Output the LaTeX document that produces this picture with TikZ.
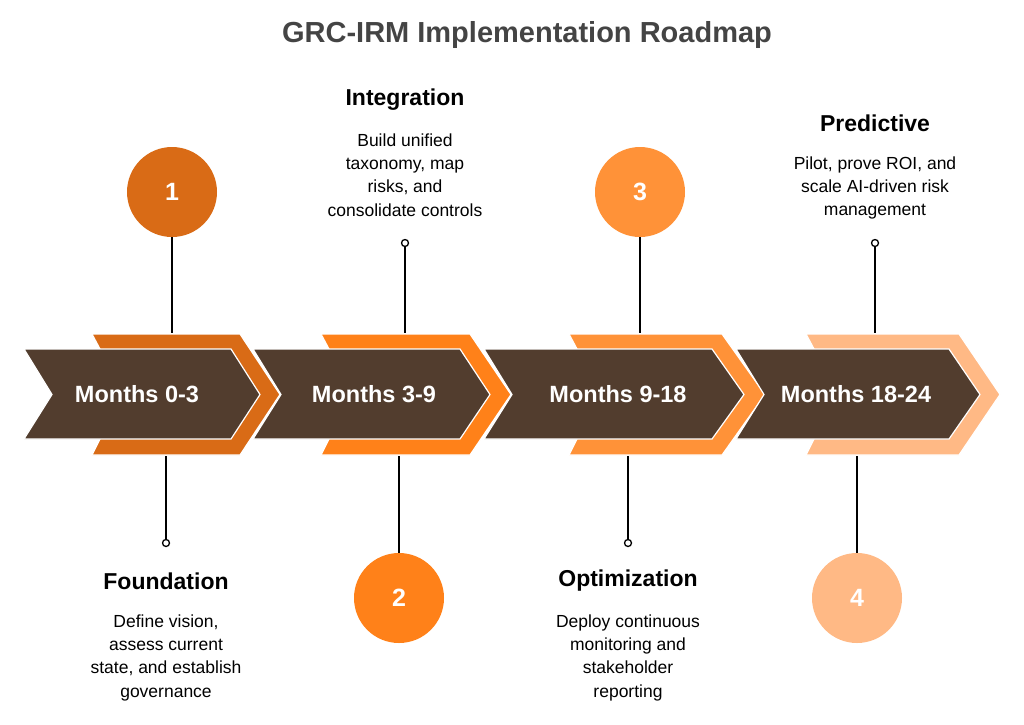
\documentclass[tikz,border=0pt]{standalone}
\usepackage{fontspec}
\setmainfont{Liberation Sans}
\definecolor{brn}{HTML}{523D2E}
\definecolor{oA}{HTML}{D96B16}
\definecolor{oB}{HTML}{FF8119}
\definecolor{oC}{HTML}{FF9238}
\definecolor{oD}{HTML}{FFB985}
\definecolor{tt}{HTML}{444444}
\begin{document}
\begin{tikzpicture}[x=1pt,y=-1pt,
  chev/.style={draw=white,line width=1.2pt},
  big/.style={circle,minimum size=90pt,inner sep=0pt,text=white,font=\bfseries\fontsize{25}{28}\selectfont},
  dot/.style={circle,draw=black,fill=white,line width=1.3pt,minimum size=7pt,inner sep=0pt},
  stem/.style={line width=2pt,black},
  head/.style={font=\bfseries\fontsize{23}{26}\selectfont,text=black},
  desc/.style={align=center,font=\fontsize{17.5}{23.3}\selectfont,text=black},
  mon/.style={text=white,font=\bfseries\fontsize{23.5}{26}\selectfont}]
\useasboundingbox (0,0) rectangle (1024,724);
\node[font=\bfseries\fontsize{29}{32}\selectfont,text=tt] (title) at (527,35) {GRC-IRM Implementation Roadmap};
\foreach \L/\TR/\T/\BL/\BE/\IT/\c in {92/240/280/24/231/260/oA, 321/470/511/253/460/490/oB, 569/722/765/484/712/744/oC, 806/959/1000/736/949/980/oD}{
  \fill[\c,chev] (\L,334) -- (\TR,334) -- (\T,394.5) -- (\TR,455) -- (\L,455) -- (\L+8,439) -- (\L+8,349) -- cycle;
  \fill[brn,chev] (\BL,349) -- (\BE,349) -- (\IT,394.5) -- (\BE,439) -- (\BL,439) -- (\BL+28,394.5) -- cycle;
}
\node[mon] (m1) at (137,394) {Months 0-3};
\node[mon] (m2) at (374,394) {Months 3-9};
\node[mon] (m3) at (618,394) {Months 9-18};
\node[mon] (m4) at (856,394) {Months 18-24};
\node[big,fill=oA] (c1) at (172,192) {1};
\node[big,fill=oB] (c2) at (399,598) {2};
\node[big,fill=oC] (c3) at (640,192) {3};
\node[big,fill=oD] (c4) at (857,598) {4};
\coordinate (s1) at (172,333);
\coordinate (s3) at (640,333);
\coordinate (s2) at (399,456);
\coordinate (s4) at (857,456);
\draw[stem] (c1) -- (s1);
\draw[stem] (c3) -- (s3);
\draw[stem] (c2) -- (s2);
\draw[stem] (c4) -- (s4);
\coordinate (t2) at (405,333);
\coordinate (t4) at (875,333);
\coordinate (b1) at (166,456);
\coordinate (b3) at (628,456);
\node[dot] (d2) at (405,243) {};
\node[dot] (d4) at (875,243) {};
\node[dot] (d1) at (166,543) {};
\node[dot] (d3) at (628,543) {};
\draw[stem] (d2) -- (t2);
\draw[stem] (d4) -- (t4);
\draw[stem] (d1) -- (b1);
\draw[stem] (d3) -- (b3);
\node[head] (h2) at (405,100) {Integration};
\node[desc,anchor=north] (x2) at (405,130) {Build unified\\taxonomy, map\\risks, and\\consolidate controls};
\node[head] (h4) at (875,123) {Predictive};
\node[desc,anchor=north] (x4) at (875,153) {Pilot, prove ROI, and\\scale AI-driven risk\\management};
\node[head] (h1) at (166,581) {Foundation};
\node[desc,anchor=north] (x1) at (166,611) {Define vision,\\assess current\\state, and establish\\governance};
\node[head] (h3) at (628,581) {Optimization};
\node[desc,anchor=north] (x3) at (628,611) {Deploy continuous\\monitoring and\\stakeholder\\reporting};
\end{tikzpicture}
\end{document}
